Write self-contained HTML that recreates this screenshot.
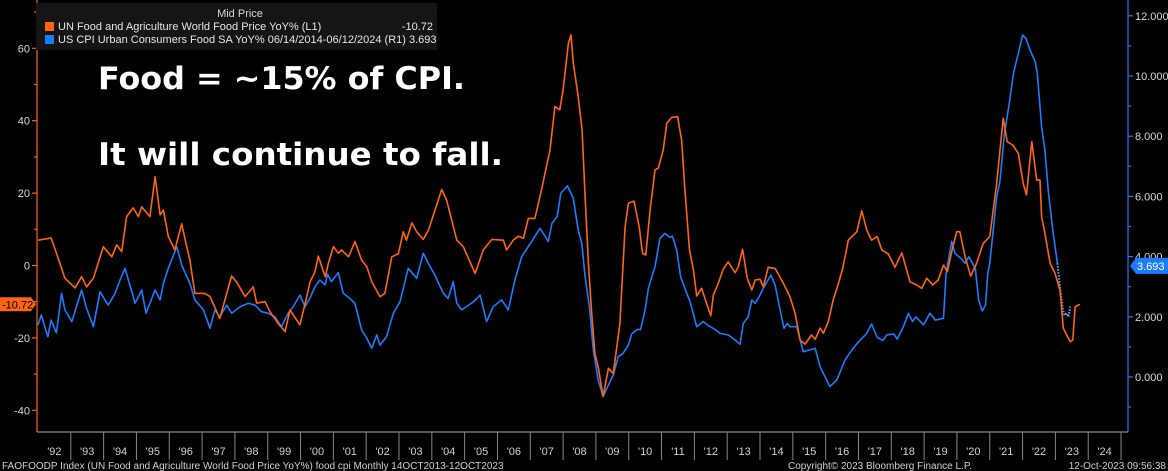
<!DOCTYPE html>
<html><head><meta charset="utf-8">
<style>
html,body{margin:0;padding:0;background:#000;}
svg{display:block;}
text{font-family:"Liberation Sans",sans-serif;}
</style></head>
<body>
<svg id="chart" width="1168" height="471" viewBox="0 0 1168 471">
<rect x="0" y="0" width="1168" height="471" fill="#000"/>
<g id="grid"></g>
<g id="series"></g>
<g id="axes"></g>
<g>
  <rect x="36" y="3" width="401" height="47" fill="#151515"/>
  <text x="240" y="17" fill="#d8d8d8" font-size="11" text-anchor="middle">Mid Price</text>
  <rect x="45" y="22" width="9" height="9" fill="#ff6510"/>
  <text x="58" y="30" fill="#e6e6e6" font-size="11">UN Food and Agriculture World Food Price YoY%  (L1)</text>
  <text x="433" y="30" fill="#e6e6e6" font-size="11" text-anchor="end">-10.72</text>
  <rect x="45" y="35" width="9" height="9" fill="#1a7cff"/>
  <text x="58" y="43" fill="#e6e6e6" font-size="11">US CPI Urban Consumers Food SA YoY% 06/14/2014-06/12/2024   (R1) 3.693</text>
</g>
<text x="98" y="89" fill="#fff" font-size="31" font-weight="bold" textLength="367" lengthAdjust="spacingAndGlyphs" style="font-family:'DejaVu Sans',sans-serif">Food = ~15% of CPI.</text>
<text x="98" y="165" fill="#fff" font-size="31" font-weight="bold" textLength="405" lengthAdjust="spacingAndGlyphs" style="font-family:'DejaVu Sans',sans-serif">It will continue to fall.</text>
<text x="2" y="469" fill="#d0d0d0" font-size="10">FAOFOODP Index (UN Food and Agriculture World Food Price YoY%) food cpi  Monthly 14OCT2013-12OCT2023</text>
<text x="880" y="469" fill="#d0d0d0" font-size="10" text-anchor="middle">Copyright© 2023 Bloomberg Finance L.P.</text>
<text x="1166" y="469" fill="#d0d0d0" font-size="10" text-anchor="end">12-Oct-2023 09:56:38</text>
</svg>
<script>
const leftTicks = [60, 40, 20, 0, -20, -40];
const rightTicks = [12, 10, 8, 6, 4, 2, 0];
const yearLabels = ["'92","'93","'94","'95","'96","'97","'98","'99","'00","'01","'02","'03","'04","'05","'06","'07","'08","'09","'10","'11","'12","'13","'14","'15","'16","'17","'18","'19","'20","'21","'22","'23","'24"];
const foodT = [1992.0,1992.4,1992.6,1992.82,1993.13,1993.33,1993.48,1993.69,1993.99,1994.25,1994.4,1994.55,1994.7,1994.9,1995.06,1995.16,1995.41,1995.57,1995.72,1995.82,1995.97,1996.17,1996.38,1996.53,1996.63,1996.78,1997.09,1997.24,1997.54,1997.9,1998.05,1998.31,1998.56,1998.66,1998.92,1999.07,1999.32,1999.53,1999.68,1999.98,2000.19,2000.29,2000.44,2000.54,2000.75,2000.85,2001.0,2001.15,2001.25,2001.46,2001.66,2001.86,2002.02,2002.17,2002.42,2002.57,2002.78,2002.98,2003.13,2003.23,2003.39,2003.54,2003.74,2003.89,2004.09,2004.3,2004.45,2004.76,2004.96,2005.32,2005.57,2005.83,2006.18,2006.28,2006.48,2006.64,2006.79,2006.94,2007.14,2007.35,2007.6,2007.75,2007.9,2008.0,2008.16,2008.24,2008.31,2008.46,2008.58,2008.67,2008.77,2008.87,2008.97,2009.07,2009.22,2009.38,2009.53,2009.73,2009.89,2009.99,2010.16,2010.32,2010.42,2010.52,2010.65,2010.8,2010.9,2011.05,2011.16,2011.31,2011.49,2011.61,2011.71,2011.85,2011.97,2012.07,2012.22,2012.37,2012.5,2012.58,2012.73,2012.88,2013.03,2013.24,2013.34,2013.47,2013.61,2013.75,2013.85,2014.0,2014.1,2014.25,2014.46,2014.71,2014.91,2015.07,2015.22,2015.37,2015.57,2015.68,2015.83,2015.93,2016.08,2016.23,2016.39,2016.52,2016.69,2016.8,2016.95,2017.1,2017.25,2017.4,2017.57,2017.71,2017.91,2018.11,2018.32,2018.57,2018.77,2018.93,2019.08,2019.26,2019.43,2019.59,2019.71,2019.84,2019.99,2020.09,2020.25,2020.42,2020.6,2020.8,2021.0,2021.21,2021.41,2021.53,2021.7,2021.87,2022.02,2022.12,2022.28,2022.43,2022.53,2022.58,2022.68,2022.84,2022.99,2023.14,2023.24,2023.34,2023.45,2023.53,2023.6,2023.7,2023.75];
const foodV = [7.0,7.6,2.4,-3.5,-6.2,-3.1,-5.9,-3.5,5.2,2.4,5.7,3.8,13.5,15.9,13.5,16.2,13.5,24.5,14,15.3,8,4.3,11.5,5.2,1.5,-7.7,-7.7,-8.6,-14.6,-2.9,-4.5,-8.6,-5.9,-10.4,-10,-12.8,-16,-18.3,-12.3,-16.4,-8.6,-4.5,-1.7,2.6,-3.1,0.6,5.2,3.4,4.3,2.4,6.6,1.5,-0.3,-4.5,-8.6,-7.7,2.4,3.2,9.3,7.0,11.8,9.3,7.2,9.6,15.1,21,18.1,7.0,5.2,-2.2,4.3,7.2,7.0,4.3,7.0,8.1,7.5,13,13,21.3,31.9,43.9,43,48.5,61.4,63.7,55.9,46.6,37.4,19,0.6,-13.2,-24.3,-28,-36.2,-28.4,-29.8,-16,10.7,17.2,17.8,10.7,3.4,2.9,15.3,26.4,26.9,31.9,39.3,40.9,41.1,34.7,20.9,4.3,-1.2,-8.4,-6.3,-10.4,-13.9,-8.1,-4.9,-1.0,1.0,-2.0,-0.3,4.5,-3.5,-6.8,-4.0,-3.8,-5.9,-0.5,-0.8,-4.9,-8.6,-13.2,-20.6,-21.7,-19.2,-20.4,-17.3,-18.7,-15.5,-9.5,-4.9,-0.8,7.0,8.0,9.3,15.1,9.8,7.0,8.0,4.3,3.2,-0.5,3.5,-4.5,-5.4,-6.3,-3.5,-5.4,-4.0,0.1,-1.7,3.8,9.3,9.3,2.4,-2.9,0.6,6.1,8.0,22.7,40.7,34.2,33.3,31,22.7,19.5,34.2,23.6,23.6,13.5,8.9,0.6,-2.2,-6.8,-17.3,-19.2,-21.0,-20.6,-11.4,-10.9,-10.72];
const cpiT = [1992.0,1992.1,1992.3,1992.4,1992.56,1992.72,1992.82,1993.03,1993.33,1993.48,1993.69,1993.89,1994.14,1994.35,1994.5,1994.65,1994.96,1995.16,1995.29,1995.57,1995.72,1995.82,1995.97,1996.23,1996.38,1996.63,1996.78,1997.04,1997.24,1997.39,1997.54,1997.75,1997.9,1998.16,1998.41,1998.61,1998.81,1999.01,1999.22,1999.42,1999.62,1999.78,1999.98,2000.14,2000.29,2000.44,2000.59,2000.75,2000.82,2000.94,2001.15,2001.3,2001.5,2001.66,2001.86,2002.02,2002.17,2002.32,2002.42,2002.62,2002.83,2003.03,2003.28,2003.54,2003.74,2003.89,2004.09,2004.35,2004.5,2004.65,2004.76,2004.91,2005.27,2005.47,2005.67,2005.87,2006.13,2006.33,2006.53,2006.74,2007.04,2007.3,2007.55,2007.66,2007.82,2007.93,2008.13,2008.31,2008.46,2008.57,2008.67,2008.8,2008.92,2009.07,2009.22,2009.38,2009.53,2009.68,2009.83,2009.99,2010.09,2010.26,2010.36,2010.5,2010.6,2010.8,2010.95,2011.1,2011.25,2011.33,2011.46,2011.58,2011.77,2011.87,2012.07,2012.27,2012.45,2012.63,2012.78,2013.03,2013.24,2013.39,2013.49,2013.64,2013.75,2013.85,2014.0,2014.1,2014.33,2014.46,2014.59,2014.73,2014.83,2014.91,2015.12,2015.32,2015.52,2015.68,2015.83,2016.13,2016.34,2016.59,2016.8,2017.0,2017.25,2017.4,2017.57,2017.74,2017.86,2018.08,2018.18,2018.37,2018.52,2018.65,2018.75,2018.98,2019.18,2019.34,2019.59,2019.67,2019.84,2019.94,2020.15,2020.25,2020.36,2020.56,2020.66,2020.77,2020.87,2020.94,2021.0,2021.21,2021.31,2021.45,2021.61,2021.72,2021.87,2022.0,2022.1,2022.23,2022.38,2022.45,2022.58,2022.68,2022.78,2022.92,2023.06];
const cpiV = [1.73,2.06,1.34,1.89,1.47,2.78,2.23,1.84,2.89,2.28,1.67,2.83,2.39,2.78,3.22,3.61,2.45,2.89,2.12,2.89,2.56,3.11,3.61,4.33,3.72,3.11,2.56,2.23,1.62,2.23,2.0,2.39,2.12,2.34,2.45,2.39,2.17,2.12,2.0,1.67,2.12,2.34,2.72,2.34,2.63,3.0,3.22,3.06,3.42,3.17,3.47,2.78,2.61,2.45,1.56,1.29,0.95,1.40,1.06,1.34,2.12,2.50,3.61,3.28,4.11,3.78,3.39,2.78,2.61,3.17,2.45,2.23,2.5,2.72,1.84,2.34,2.56,2.23,3.22,4.0,4.5,4.94,4.5,5.1,5.33,6.1,6.35,5.94,4.88,4.44,3.33,2.34,0.9,-0.1,-0.65,-0.27,0.07,0.67,0.79,1.06,1.43,1.58,1.58,2.23,2.95,3.66,4.6,4.77,4.64,4.68,4.22,3.33,2.78,2.5,1.67,1.84,1.69,1.58,1.45,1.4,1.23,1.09,1.78,2.0,2.56,2.45,2.72,2.95,3.39,3.06,2.34,1.62,1.78,1.67,1.67,0.84,0.9,0.95,0.34,-0.32,-0.1,0.56,0.9,1.17,1.45,1.76,1.32,1.21,1.4,1.43,1.26,1.67,2.12,1.84,2.0,1.73,2.12,1.89,1.95,3.44,4.5,4.11,3.91,3.78,4.0,3.61,2.56,2.2,2.39,3.44,3.78,5.99,6.5,8.1,9.2,10.09,10.75,11.36,11.25,10.86,10.48,10.09,8.32,7.54,6.21,4.88,3.78];
const cpiFcT = [2023.06,2023.15,2023.22,2023.27,2023.34,2023.4,2023.45];
const cpiFcV = [3.78,2.9,2.3,2.05,2.12,2.0,2.34];
const foodLast = "-10.72";
const cpiLast = "3.693";

const NS = "http://www.w3.org/2000/svg";
const X0 = 70.8, XW = 32.82, LEFT = 37, RIGHT = 1128, BOTTOM = 432;
function xScale(t){ return X0 + (t - 1993) * XW; }
function yLeft(v){ return 265.5 - v * 3.62; }
function yRight(v){ return 377 - v * 30.1; }
function mk(tag, attrs, parent){ const e = document.createElementNS(NS, tag); for (const k in attrs) e.setAttribute(k, attrs[k]); parent.appendChild(e); return e; }
function pts(ts, vs, ys){ return ts.map((t,i)=> xScale(t).toFixed(1)+","+ys(vs[i]).toFixed(1)).join(" "); }

const series = document.getElementById('series');
const axes = document.getElementById('axes');

let pl = mk('polyline', {points: pts(cpiT, cpiV, yRight), fill:'none', stroke:'#1a7cff', 'stroke-width':1.6, 'stroke-linejoin':'round'}, series);


pl = mk('polyline', {points: pts(cpiFcT, cpiFcV, yRight), fill:'none', stroke:'#5aaaff', 'stroke-width':2, 'stroke-dasharray':'1.5,1.5'}, series);


pl = mk('polyline', {points: pts(foodT, foodV, yLeft), fill:'none', stroke:'#ff6510', 'stroke-width':1.6, 'stroke-linejoin':'round'}, series);



let ln = mk('line', {x1:LEFT, y1:0, x2:LEFT, y2:BOTTOM, stroke:'#ff6510', 'stroke-width':1.2}, axes);


for (let v = -50; v <= 70; v += 10) {
  const y = yLeft(v); if (y < 2 || y > BOTTOM) continue;
  const major = leftTicks.indexOf(v) >= 0;
  const tk = mk('line', {x1:LEFT-(major?5:3), y1:y, x2:LEFT, y2:y, stroke:'#ff6510', 'stroke-width':1.2}, axes);
  
  
}
leftTicks.forEach(v => {
  const t = mk('text', {x:LEFT-7, y:yLeft(v)+4, fill:'#d8d8d8', 'font-size':11, 'text-anchor':'end'}, axes);
  t.textContent = v;
  
  
});
ln = mk('line', {x1:RIGHT, y1:0, x2:RIGHT, y2:BOTTOM, stroke:'#1a7cff', 'stroke-width':1.2}, axes);


for (let v = -1; v <= 13; v += 1) {
  const y = yRight(v); if (y < 2 || y > BOTTOM) continue;
  const major = rightTicks.indexOf(v) >= 0;
  const tk = mk('line', {x1:RIGHT, y1:y, x2:RIGHT+(major?5:3), y2:y, stroke:'#1a7cff', 'stroke-width':1.2}, axes);
  
  
}
rightTicks.forEach(v => {
  const t = mk('text', {x:RIGHT+7, y:yRight(v)+4, fill:'#d8d8d8', 'font-size':11}, axes);
  t.textContent = v.toFixed(3);
  
  
});
ln = mk('line', {x1:LEFT, y1:BOTTOM, x2:RIGHT, y2:BOTTOM, stroke:'#aaa', 'stroke-width':1}, axes);


yearLabels.forEach((lab, i) => {
  const yr = 1992 + i;
  const xs = xScale(yr + 1);
  if (xs <= RIGHT) {
    const s = mk('line', {x1:xs, y1:BOTTOM, x2:xs, y2:460, stroke:'#888', 'stroke-width':1}, axes);
    
    
  }
  const t = mk('text', {x:xScale(yr + 0.5), y:455, fill:'#d0d0d0', 'font-size':11, 'text-anchor':'middle'}, axes);
  t.textContent = lab;
  
  
});
const yl = yLeft(parseFloat(foodLast));
let tag = mk('path', {d:`M0 ${yl-7} H31 L36 ${yl} L31 ${yl+7} H0 Z`, fill:'#ff6510'}, axes);


let tt = mk('text', {x:2, y:yl+4, fill:'#000', 'font-size':11}, axes);
tt.textContent = foodLast;


const yr2 = yRight(parseFloat(cpiLast));
tag = mk('path', {d:`M1130 ${yr2} L1136 ${yr2-8} H1168 V${yr2+8} H1136 Z`, fill:'#1a7cff'}, axes);


tt = mk('text', {x:1137, y:yr2+4, fill:'#fff', 'font-size':11}, axes);
tt.textContent = cpiLast;


</script>
</body></html>
